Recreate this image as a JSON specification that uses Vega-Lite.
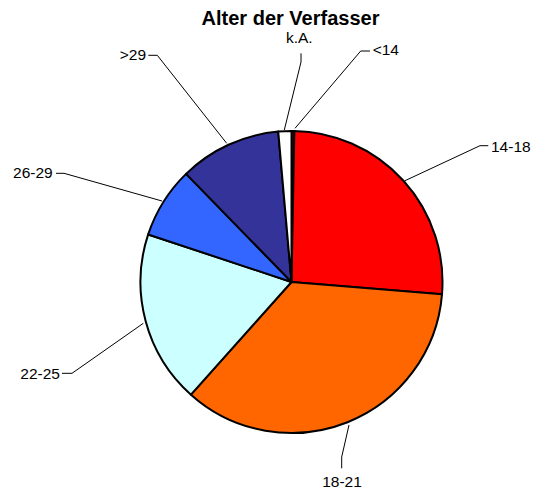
{
  "$schema": "https://vega.github.io/schema/vega-lite/v6.json",
  "width": 533,
  "height": 461,
  "padding": {"top": 30, "left": 0, "right": 0, "bottom": 0},
  "autosize": {"type": "none"},
  "title": {
    "text": "Alter der Verfasser",
    "font": "Liberation Sans",
    "fontSize": 20,
    "fontWeight": "bold",
    "color": "#000000",
    "anchor": "middle",
    "frame": "group",
    "dx": 24,
    "dy": 21,
    "offset": 6,
    "baseline": "alphabetic"
  },
  "config": {"view": {"stroke": null}},
  "datasets": {
    "slices": [
      {"gruppe": "<14", "anteil": 0.3, "o": 1},
      {"gruppe": "14-18", "anteil": 26.0, "o": 2},
      {"gruppe": "18-21", "anteil": 35.3, "o": 3},
      {"gruppe": "22-25", "anteil": 18.5, "o": 4},
      {"gruppe": "26-29", "anteil": 7.6, "o": 5},
      {"gruppe": ">29", "anteil": 10.9, "o": 6},
      {"gruppe": "k.A.", "anteil": 1.4, "o": 7}
    ],
    "leaders": [
      {"gruppe": "k.A.", "i": 1, "x": 9.5, "y": -228.7},
      {"gruppe": "k.A.", "i": 2, "x": 9.5, "y": -220},
      {"gruppe": "k.A.", "i": 3, "x": -7.2, "y": -152},
      {"gruppe": "<14", "i": 1, "x": 78.5, "y": -231},
      {"gruppe": "<14", "i": 2, "x": 69.2, "y": -231},
      {"gruppe": "<14", "i": 3, "x": 3.5, "y": -153.7},
      {"gruppe": "14-18", "i": 1, "x": 196.8, "y": -136.3},
      {"gruppe": "14-18", "i": 2, "x": 188.5, "y": -136.3},
      {"gruppe": "14-18", "i": 3, "x": 113.5, "y": -101.3},
      {"gruppe": "18-21", "i": 1, "x": 50.2, "y": 186.3},
      {"gruppe": "18-21", "i": 2, "x": 50.2, "y": 175},
      {"gruppe": "18-21", "i": 3, "x": 57.5, "y": 143},
      {"gruppe": "22-25", "i": 1, "x": -229.5, "y": 91.3},
      {"gruppe": "22-25", "i": 2, "x": -219.5, "y": 91.3},
      {"gruppe": "22-25", "i": 3, "x": -148.2, "y": 41.3},
      {"gruppe": "26-29", "i": 1, "x": -235.5, "y": -108.7},
      {"gruppe": "26-29", "i": 2, "x": -227.5, "y": -108.7},
      {"gruppe": "26-29", "i": 3, "x": -129.5, "y": -81},
      {"gruppe": ">29", "i": 1, "x": -143.2, "y": -226.7},
      {"gruppe": ">29", "i": 2, "x": -134.2, "y": -226.7},
      {"gruppe": ">29", "i": 3, "x": -64.8, "y": -138.7}
    ],
    "labels": [
      {"gruppe": "k.A.", "x": 7.8, "y": -239},
      {"gruppe": "<14", "x": 81.2, "y": -227},
      {"gruppe": "14-18", "x": 199.5, "y": -130.3},
      {"gruppe": "18-21", "x": 50.5, "y": 205.3},
      {"gruppe": "22-25", "x": -231.5, "y": 97},
      {"gruppe": "26-29", "x": -238.8, "y": -103.7},
      {"gruppe": ">29", "x": -145.5, "y": -222}
    ]
  },
  "layer": [
    {
      "data": {"name": "slices"},
      "mark": {"type": "arc", "outerRadius": 151, "stroke": "#000000", "strokeWidth": 2, "strokeJoin": "round"},
      "encoding": {
        "x": {"datum": 0, "type": "quantitative", "scale": {"domain": [-291.5, 241.5], "nice": false, "zero": false}, "axis": null},
        "y": {"datum": 0, "type": "quantitative", "scale": {"domain": [-252, 209], "nice": false, "zero": false, "reverse": true}, "axis": null},
        "theta": {"field": "anteil", "type": "quantitative", "stack": true},
        "order": {"field": "o", "type": "quantitative"},
        "color": {
          "field": "gruppe",
          "type": "nominal",
          "scale": {
            "domain": ["<14", "14-18", "18-21", "22-25", "26-29", ">29", "k.A."],
            "range": ["#990000", "#FF0000", "#FF6600", "#CCFFFF", "#3366FF", "#333399", "#FFFFFF"]
          },
          "legend": null
        }
      }
    },
    {
      "data": {"name": "leaders"},
      "mark": {"type": "line", "color": "#000000", "strokeWidth": 1},
      "encoding": {
        "x": {"field": "x", "type": "quantitative"},
        "y": {"field": "y", "type": "quantitative"},
        "detail": {"field": "gruppe"},
        "order": {"field": "i", "type": "quantitative"}
      }
    },
    {
      "data": {"name": "labels"},
      "transform": [{"filter": {"field": "gruppe", "oneOf": ["k.A.", "18-21"]}}],
      "mark": {"type": "text", "align": "center", "baseline": "alphabetic", "font": "Liberation Sans", "fontSize": 15.5, "color": "#000000"},
      "encoding": {
        "x": {"field": "x", "type": "quantitative"},
        "y": {"field": "y", "type": "quantitative"},
        "text": {"field": "gruppe"}
      }
    },
    {
      "data": {"name": "labels"},
      "transform": [{"filter": {"field": "gruppe", "oneOf": ["<14", "14-18"]}}],
      "mark": {"type": "text", "align": "left", "baseline": "alphabetic", "font": "Liberation Sans", "fontSize": 15.5, "color": "#000000"},
      "encoding": {
        "x": {"field": "x", "type": "quantitative"},
        "y": {"field": "y", "type": "quantitative"},
        "text": {"field": "gruppe"}
      }
    },
    {
      "data": {"name": "labels"},
      "transform": [{"filter": {"field": "gruppe", "oneOf": ["22-25", "26-29", ">29"]}}],
      "mark": {"type": "text", "align": "right", "baseline": "alphabetic", "font": "Liberation Sans", "fontSize": 15.5, "color": "#000000"},
      "encoding": {
        "x": {"field": "x", "type": "quantitative"},
        "y": {"field": "y", "type": "quantitative"},
        "text": {"field": "gruppe"}
      }
    }
  ]
}
